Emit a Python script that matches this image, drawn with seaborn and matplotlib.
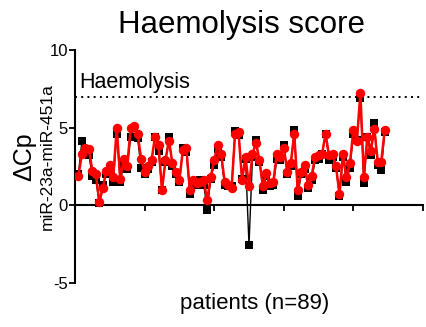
import matplotlib
matplotlib.use("Agg")
import matplotlib.pyplot as plt
import seaborn as sns
import pandas as pd
import numpy as np

patients = list(range(1, 90))
red_values = [1.9, 3.3, 3.65, 3.6, 2.2, 2.0, 0.17, 1.1, 2.2, 2.6,
              1.8, 5.0, 1.7, 2.95, 2.5, 4.95, 5.1, 4.6, 3.0, 2.15,
              2.5, 2.9, 4.4, 3.9, 0.97, 2.9, 4.15, 2.7, 2.15, 1.6,
              3.55, 3.65, 0.97, 1.6, 1.4, 1.5, 1.6, 0.3, 1.8, 2.9,
              3.9, 3.3, 1.5, 1.3, 1.07, 4.6, 4.7, 1.6, 3.1, 1.2,
              3.3, 4.0, 2.9, 1.2, 2.05, 1.4, 1.5, 3.3, 3.1, 3.7,
              2.15, 2.7, 4.6, 0.97, 2.15, 2.6, 1.3, 1.9, 3.1, 3.2,
              3.3, 4.6, 3.2, 3.3, 2.5, 0.7, 3.3, 1.8, 2.7, 4.85,
              4.1, 7.25, 1.8, 4.4, 3.5, 4.9, 2.8, 2.8, 4.85]
black_values = [2.0, 4.15, 3.5, 3.2, 1.9, 1.6, 0.15, 1.3, 2.0, 2.4,
                1.5, 4.6, 1.5, 2.6, 2.3, 4.4, 5.0, 4.3, 2.4, 2.0,
                2.3, 2.8, 4.4, 3.5, 1.0, 2.8, 4.4, 2.5, 2.0, 1.5,
                3.7, 3.4, 0.7, 1.5, 1.3, 1.6, 1.3, -0.3, 1.7, 2.6,
                3.6, 3.1, 1.3, 1.2, 1.2, 4.8, 4.5, 1.7, 3.0, -2.6,
                3.1, 4.2, 2.8, 1.0, 1.9, 1.2, 1.3, 3.0, 2.9, 3.9,
                2.0, 2.5, 4.85, 0.6, 2.0, 2.3, 1.1, 1.6, 2.9, 3.0,
                3.3, 4.6, 2.9, 3.1, 2.4, 0.6, 3.1, 1.5, 2.4, 4.6,
                4.2, 6.9, 1.4, 4.4, 3.2, 5.3, 2.6, 2.25, 4.7]
haemolysis_threshold = 7
x_ticks = [0, 20, 40, 60, 80, 100]
y_ticks = [-5, 0, 5, 10]

black_df = pd.DataFrame({"patient": patients, "value": black_values})
red_df = pd.DataFrame({"patient": patients, "value": red_values})

sns.set_style("ticks")
plt.rcParams["font.family"] = ["Liberation Sans", "DejaVu Sans"]
plt.rcParams["text.color"] = "black"
plt.rcParams["axes.labelcolor"] = "black"
plt.rcParams["xtick.color"] = "black"
plt.rcParams["ytick.color"] = "black"
plt.rcParams["axes.edgecolor"] = "black"

fig = plt.figure(figsize=(4.26, 3.27), dpi=100)
ax = fig.add_axes([0.176, 0.136, 0.817, 0.711])

sns.lineplot(data=black_df, x="patient", y="value", ax=ax, color="black",
             marker="s", markersize=6, markeredgewidth=0, linewidth=1.0, zorder=2)
sns.lineplot(data=red_df, x="patient", y="value", ax=ax, color="#ff0000",
             marker="o", markersize=6.8, markeredgewidth=0, linewidth=1.8, zorder=3)

ax.axhline(haemolysis_threshold, color="black", linestyle=(0, (1, 2.2)), linewidth=1.4, zorder=1)
ax.text(1.2, haemolysis_threshold + 0.25, "Haemolysis", fontsize=15.5, ha="left", va="bottom")

ax.set_xlim(0, 100)
ax.set_ylim(-5, 10)
ax.set_xticks(x_ticks)
ax.set_xticklabels([])
ax.set_yticks(y_ticks)
ax.set_yticklabels([str(t) for t in y_ticks], fontsize=12)
ax.tick_params(axis="both", direction="out", length=4, width=1.3, color="black", pad=1)

ax.spines["top"].set_visible(False)
ax.spines["right"].set_visible(False)
ax.spines["bottom"].set_position(("data", 0))
ax.spines["bottom"].set_linewidth(1.5)
ax.spines["left"].set_linewidth(1.5)

ax.set_xlabel("")
ax.set_ylabel("")
fig.text(0.597, 0.072, "patients (n=89)", fontsize=16, ha="center", va="center")
fig.text(0.566, 0.925, "Haemolysis score", fontsize=22.5, ha="center", va="center")
fig.text(0.058, 0.52, "ΔCp", fontsize=18, rotation=90, ha="center", va="center")
fig.text(0.11, 0.52, "miR-23a-miR-451a", fontsize=12.5, rotation=90, ha="center", va="center")

fig.savefig("out.png", dpi=100)
